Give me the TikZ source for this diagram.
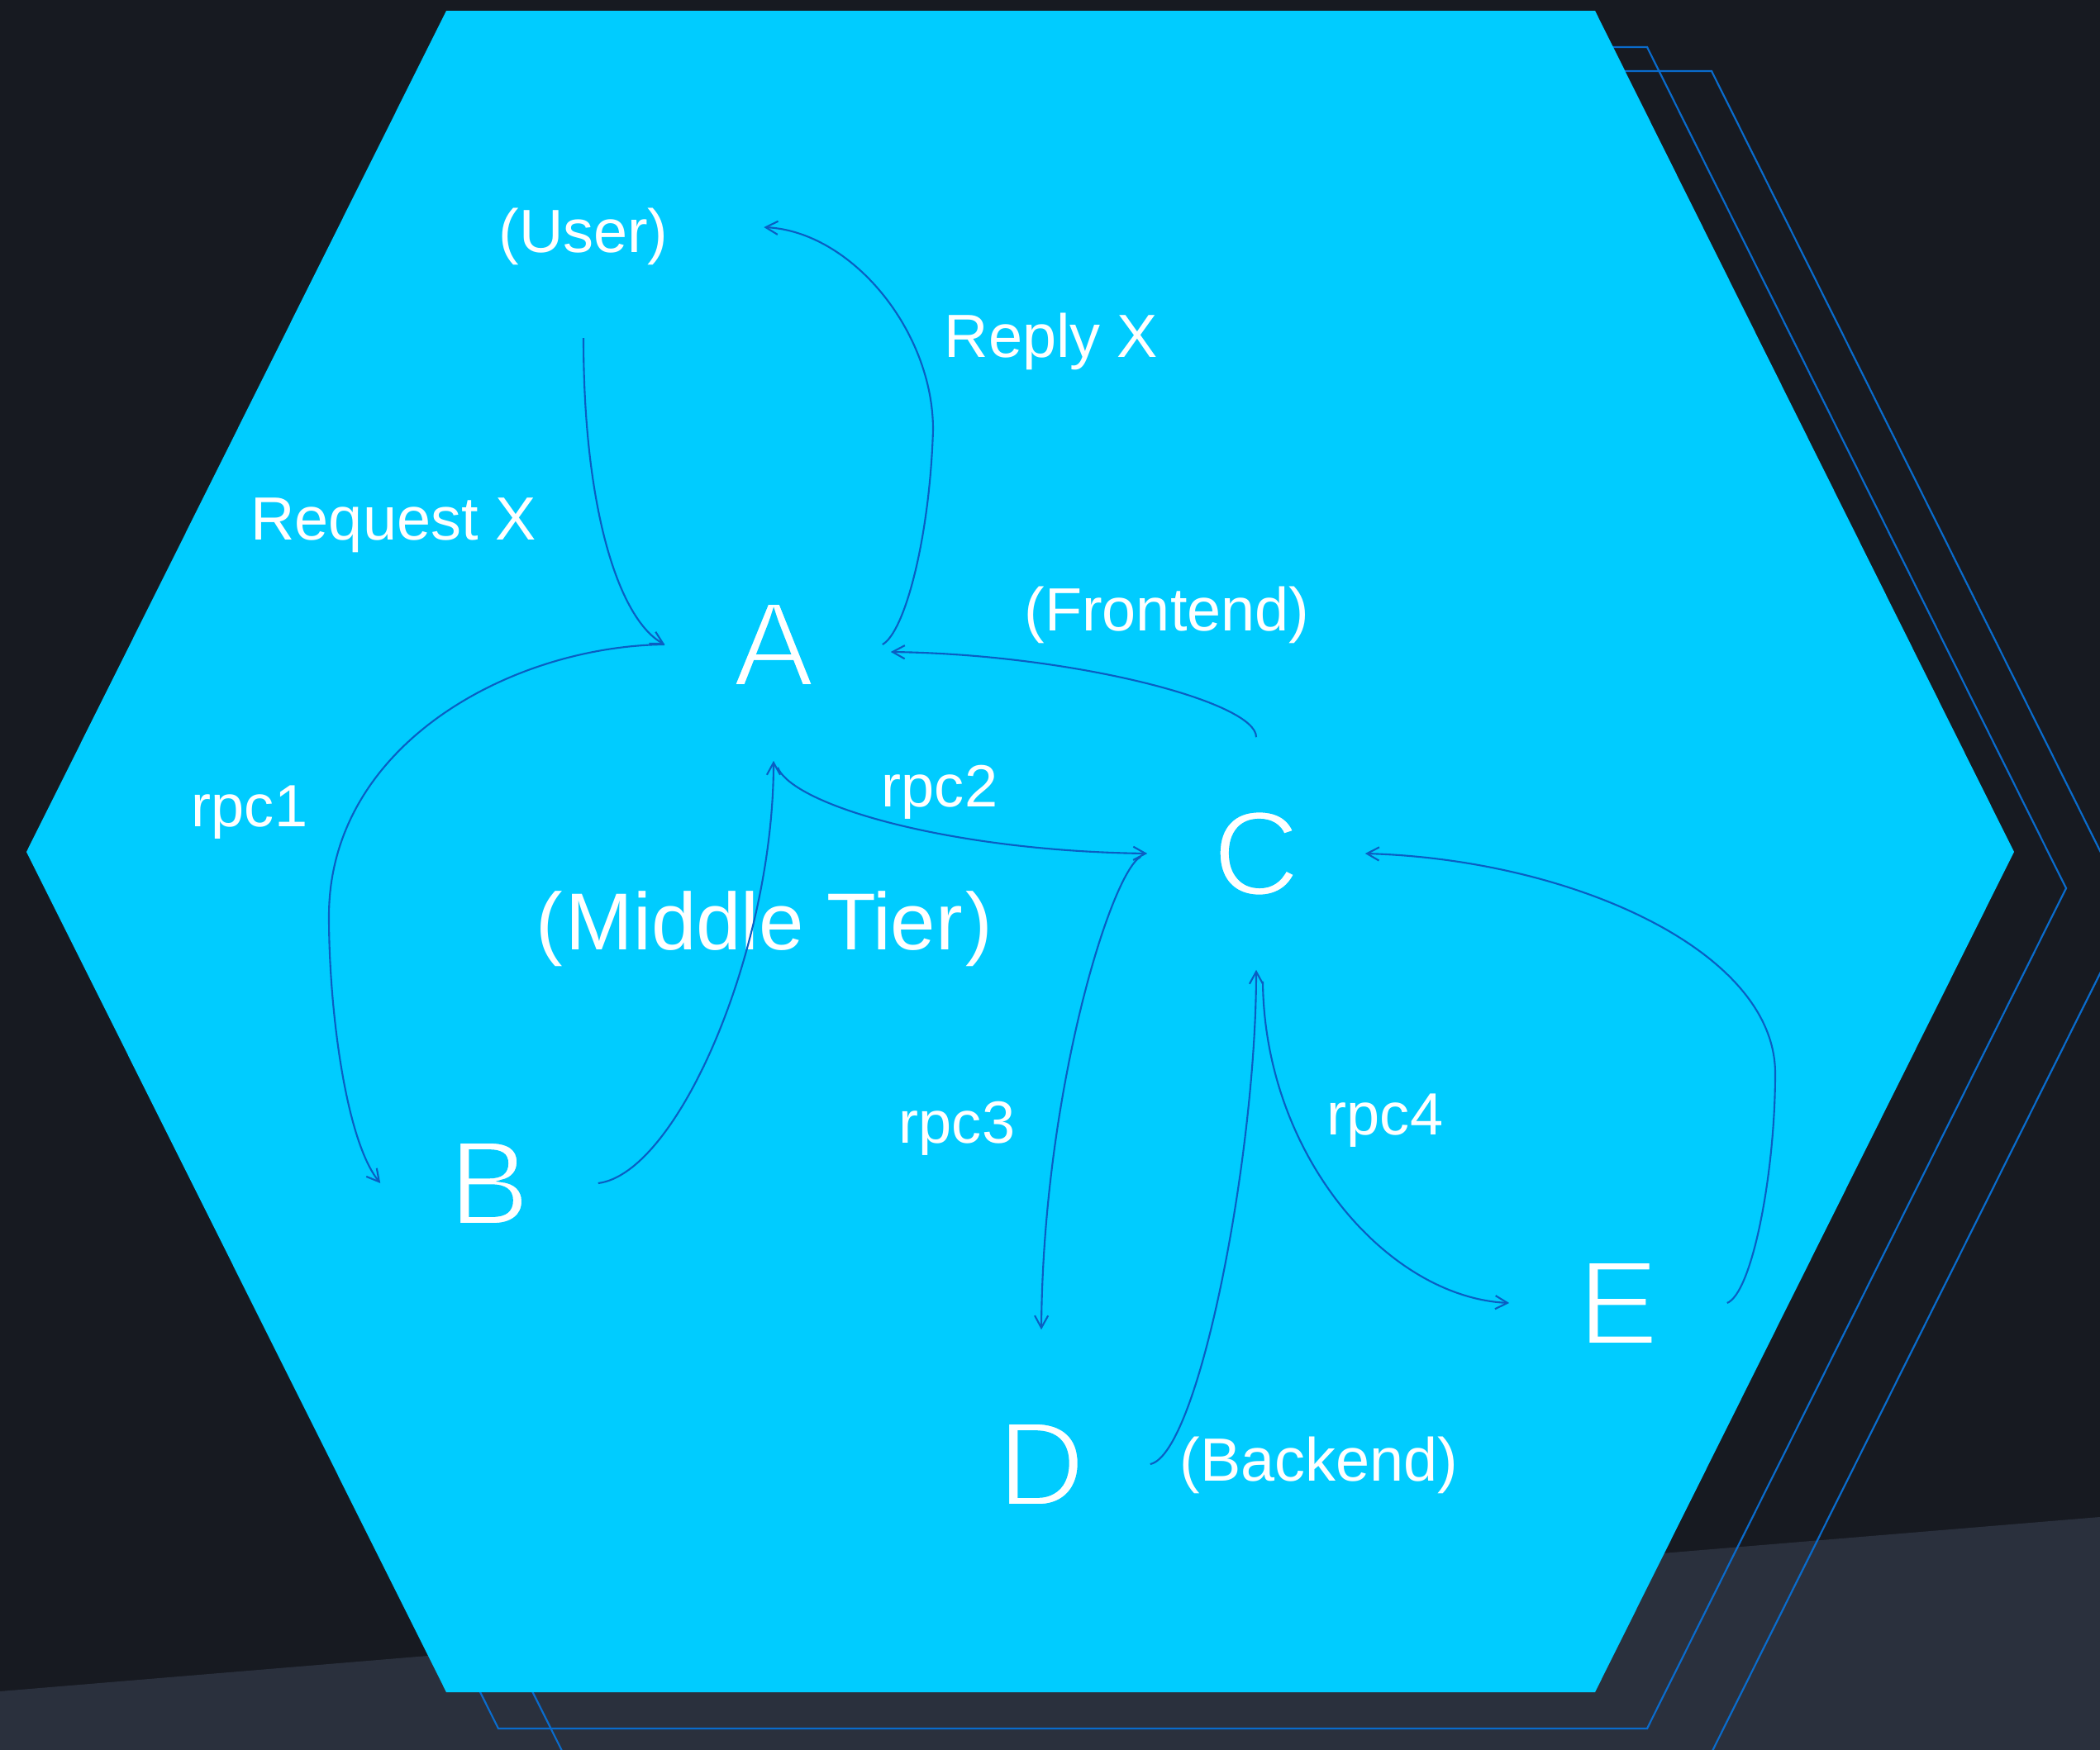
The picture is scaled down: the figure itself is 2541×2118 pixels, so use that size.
\documentclass[tikz,border=0pt]{standalone}
\usepackage{fontspec}
\setmainfont{Liberation Sans}
\usetikzlibrary{arrows.meta}
\definecolor{bgdark}{HTML}{171A21}
\definecolor{bglight}{HTML}{2A303D}
\definecolor{hexcyan}{HTML}{00CCFF}
\definecolor{outlineblue}{HTML}{0A6BCB}
\definecolor{arrowblue}{HTML}{0A5EC2}
% thin the big letters: fill white, stroke in the cyan of the hexagon
\newcommand{\thinglyph}[1]{\special{pdf:literal direct 2 Tr 0 0.8 1 RG 1.0 w}#1\special{pdf:literal direct 0 Tr}}
\begin{document}
\begin{tikzpicture}[x=0.01cm,y=-0.01cm,
  letter/.style={text=white, font=\fontsize{41.3}{45}\selectfont, minimum width=2.62cm, minimum height=2.8cm, inner sep=0pt},
  lbl/.style={text=white, font=\fontsize{21}{24}\selectfont, anchor=base, inner sep=0pt},
  rpclbl/.style={text=white, font=\fontsize{20.5}{24}\selectfont, anchor=base, inner sep=0pt},
  tierlbl/.style={text=white, font=\fontsize{27.8}{30}\selectfont, anchor=base, inner sep=0pt},
  outl/.style={draw=outlineblue, line width=0.63pt},
  conn/.style={draw=arrowblue, line width=0.6pt, -{Straight Barb[length=4.2pt,width=4.6pt]}},
  ]
\useasboundingbox (0,0) rectangle (2541,2118);
% background
\fill[bgdark] (0,0) rectangle (2541,2118);
\fill[bglight] (0,2047) -- (2541,1836) -- (2541,2118) -- (0,2118) -- cycle;
% outline hexagons
\draw[outl, shift={(141,73)}] (540,13) -- (1930,13) -- (2437,1031) -- (1930,2048) -- (540,2048) -- (32,1031) -- cycle;
\draw[outl, shift={(63,44)}] (540,13) -- (1930,13) -- (2437,1031) -- (1930,2048) -- (540,2048) -- (32,1031) -- cycle;
% main hexagon
\fill[hexcyan] (540,13) -- (1930,13) -- (2437,1031) -- (1930,2048) -- (540,2048) -- (32,1031) -- cycle;

% letters
\node[letter] (A) at (936,780) {\thinglyph{A}};
\node[letter] (B) at (592,1432) {\thinglyph{B}};
\node[letter] (C) at (1520,1033) {\thinglyph{C}};
\node[letter] (D) at (1260,1772) {\thinglyph{D}};
\node[letter] (E) at (1958,1577) {\thinglyph{E}};

% labels
\node[lbl] (User) at (706,305) {(User)};
\node[lbl] (reply) at (1272,432) {Reply X};
\node[lbl] (request) at (476,653) {Request X};
\node[lbl] (front) at (1412,763) {(Frontend)};
\node[rpclbl] (rpc1) at (302,1000) {rpc1};
\node[rpclbl] (rpc2) at (1137,976) {rpc2};
\node[rpclbl] (rpc3) at (1158,1383) {rpc3};
\node[rpclbl] (rpc4) at (1676,1373) {rpc4};
\node[tierlbl] (tier) at (925,1149) {(\kern0.04cm Middle Tier\kern0.04cm)};
\node[lbl] (back) at (1596,1792) {(Backend)};

% connectors
\draw[conn] ([shift={(0,104)}]User.base) .. controls (706,620) and (750,750) .. (A.west);
\draw[conn] (A.east) .. controls (1095,765) and (1125,650) .. (1129,520) .. controls (1129,400) and (1030,280) .. ([shift={(115,-30)}]User.base east);
\draw[conn] (A.west) .. controls (620,782) and (398,900) .. (398,1109) .. controls (398,1220) and (418,1380) .. (B.west);
\draw[conn] (B.east) .. controls (820,1420) and (936,1150) .. (A.south);
\draw[conn] ([shift={(5,8)}]A.south) .. controls (960,975) and (1150,1030) .. (C.west);
\draw[conn] (C.north) .. controls (1521,850) and (1300,792) .. ([shift={(10,9)}]A.east);
\draw[conn] ([shift={(-8,4)}]C.west) .. controls (1345,1055) and (1262,1320) .. ([shift={(0,-22)}]D.north);
\draw[conn] (D.east) .. controls (1450,1760) and (1520,1400) .. (C.south);
\draw[conn] ([shift={(8,14)}]C.south) .. controls (1530,1400) and (1680,1570) .. (E.west);
\draw[conn] (E.east) .. controls (2120,1565) and (2148,1420) .. (2148,1299) .. controls (2148,1150) and (1900,1040) .. (C.east);
\end{tikzpicture}
\end{document}
